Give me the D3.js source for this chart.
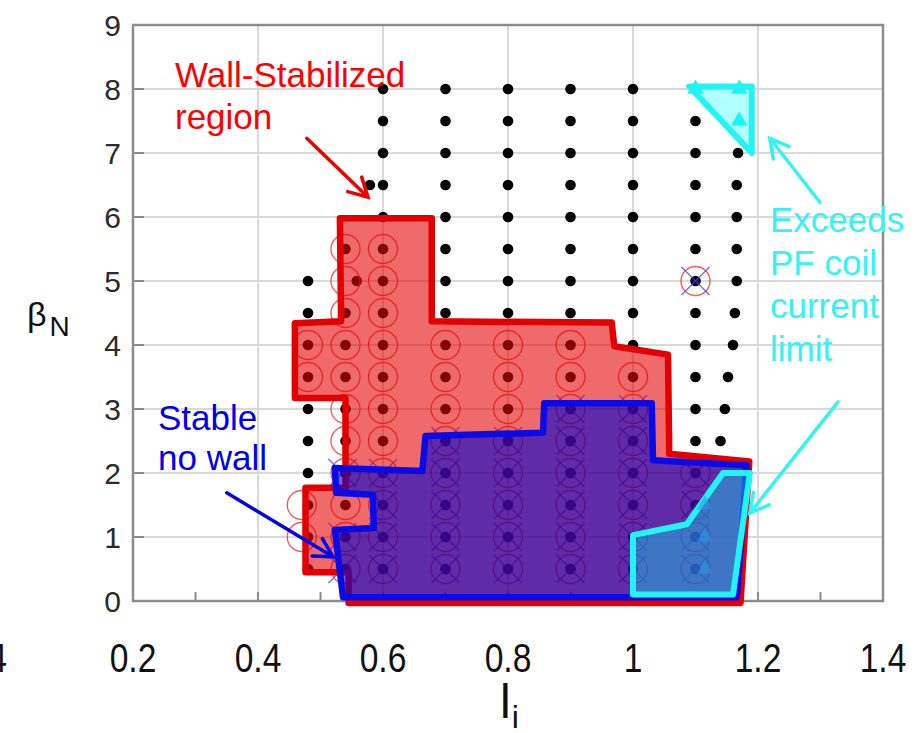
<!DOCTYPE html>
<html>
<head>
<meta charset="utf-8">
<script src="https://cdn.jsdelivr.net/npm/d3@7"></script>
<style>
  html, body { margin: 0; padding: 0; background: #fff; }
  svg { display: block; }
</style>
</head>
<body>
<svg id="chart" width="916" height="733"></svg>
<script>
// ---------------- data ----------------
const xTickValues = [0.2, 0.4, 0.6, 0.8, 1.0, 1.2, 1.4];
const xTickLabels = ["0.2", "0.4", "0.6", "0.8", "1", "1.2", "1.4"];
const xMinorTicks = [0.3, 0.5, 0.7, 0.9, 1.1, 1.3];
const yTickValues = [0, 1, 2, 3, 4, 5, 6, 7, 8, 9];
const yTickLabels = ["0", "1", "2", "3", "4", "5", "6", "7", "8", "9"];

// equilibrium scan points (black dots), grouped by li column
const dotColLi = [0.48, 0.54, 0.6, 0.7, 0.8, 0.9, 1.0, 1.1];
const dotColBetas = [
  [5, 4.5, 4, 3.5, 3, 2.5, 2, 1.5, 1, 0.5],
  [5.5, 4.5, 4, 3.5, 3, 2.5, 2, 1.5, 1, 0.5],
  [8, 7.5, 7, 6.5, 6, 5.5, 5, 4.5, 4, 3.5, 3, 2.5, 2, 1.5, 1, 0.5],
  [8, 7.5, 7, 6.5, 6, 5.5, 5, 4.5, 4, 3.5, 3, 2.5, 2, 1.5, 1, 0.5],
  [8, 7.5, 7, 6.5, 6, 5.5, 5, 4.5, 4, 3.5, 3, 2.5, 2, 1.5, 1, 0.5],
  [8, 7.5, 7, 6.5, 6, 5.5, 5, 4.5, 4, 3.5, 3, 2.5, 2, 1.5, 1, 0.5],
  [8, 7.5, 7, 6.5, 6, 5.5, 5, 4.5, 4, 3.5, 3, 2.5, 2, 1.5, 1, 0.5],
  [7.5, 7, 6.5, 6, 5.5, 5, 4.5, 4, 3.5, 3, 2.5, 2, 1.5, 1, 0.5]
];
// off-column points
const extraDotLi   = [0.558, 0.579, 1.168, 1.166, 1.166, 1.166, 1.166, 1.163, 1.160, 1.152, 1.147, 1.140];
const extraDotBeta = [5,     6.5,   7,     6.5,   6,     5.5,   5,     4.5,   4,     3.5,   3,     2.5];

// wall-stabilized cases (red circles)
const wallColLi = [0.48, 0.47, 0.54, 0.6, 0.7, 0.8, 0.9, 1.0, 1.1, 1.1];
const wallColBetas = [
  [4, 3.5],
  [1.5, 1],
  [5.5, 5, 4.5, 4, 3.5, 3, 2.5, 2, 1.5, 1, 0.5],
  [5.5, 5, 4.5, 4, 3.5, 3, 2.5, 2, 1.5, 1, 0.5],
  [4, 3.5, 3, 2.5, 2, 1.5, 1, 0.5],
  [4, 3.5, 3, 2.5, 2, 1.5, 1, 0.5],
  [4, 3.5, 3, 2.5, 2, 1.5, 1, 0.5],
  [3.5, 3, 2.5, 2, 1.5, 1, 0.5],
  [5],
  [2, 1.5, 1, 0.5]
];
// stable without wall (blue crosses)
const noWallColLi = [0.535, 0.6, 0.7, 0.8, 0.9, 1.0, 1.1, 1.1];
const noWallColBetas = [
  [2, 1, 0.5],
  [2, 1.5, 1, 0.5],
  [2.5, 2, 1.5, 1, 0.5],
  [2.5, 2, 1.5, 1, 0.5],
  [3, 2.5, 2, 1.5, 1, 0.5],
  [3, 2.5, 2, 1.5, 1, 0.5],
  [5],
  [2, 1.5, 1, 0.5]
];
// PF coil limit cases (cyan triangles)
const pfLi   = [1.1, 1.17, 1.17, 1.115, 1.115, 1.115];
const pfBeta = [8,   8,    7.5,  1.5,   1,     0.5];

// region boundaries [li, betaN]
const wallRegion = [
  [0.531, 5.98], [0.678, 5.98], [0.678, 4.37], [0.966, 4.35], [0.970, 3.98],
  [1.056, 3.85], [1.058, 2.30], [1.186, 2.18], [1.172, -0.03], [0.545, -0.03],
  [0.545, 0.45], [0.476, 0.45], [0.476, 1.77], [0.540, 1.77], [0.540, 3.17],
  [0.459, 3.17], [0.459, 4.34], [0.533, 4.37]
];
const noWallRegion = [
  [0.523, 2.08], [0.663, 2.03], [0.668, 2.58], [0.856, 2.63], [0.858, 3.09],
  [1.030, 3.09], [1.032, 2.20], [1.182, 2.12], [1.166, 0.06], [0.536, 0.06],
  [0.523, 1.11], [0.585, 1.14], [0.584, 1.66], [0.525, 1.69]
];
const pfRegionLow = [
  [1.0, 1.03], [1.086, 1.20], [1.144, 2.0], [1.187, 2.0], [1.160, 0.10], [1.0, 0.10]
];
const pfRegionHigh = [
  [1.09, 8.04], [1.19, 8.04], [1.19, 7.0]
];

// annotations: [tailLi, tailBeta, tipLi, tipBeta]
const arrows = [
  { c: "#ee0000", p: [0.478, 7.23, 0.576, 6.31] },
  { c: "#0000e6", p: [0.350, 1.69, 0.520, 0.69] },
  { c: "#33f3f3", p: [1.299, 6.23, 1.219, 7.23] },
  { c: "#33f3f3", p: [1.328, 3.11, 1.187, 1.375] }
];
const labelWall = ["Wall-Stabilized", "region"];
const labelNoWall = ["Stable", "no wall"];
const labelPF = ["Exceeds", "PF coil", "current", "limit"];

// ---------------- drawing ----------------
const svg = d3.select("#chart");
const x = d3.scaleLinear().domain([0.2, 1.4]).range([133, 883]);
const y = d3.scaleLinear().domain([0, 9]).range([601, 25]);
const FONT = "'Liberation Sans', Arial, sans-serif";

// gridlines
svg.append("g").selectAll("line.gx").data(xTickValues.slice(1, -1)).join("line")
  .attr("x1", d => x(d)).attr("x2", d => x(d)).attr("y1", y(9)).attr("y2", y(0))
  .attr("stroke", "#d9d9d9").attr("stroke-width", 2);
svg.append("g").selectAll("line.gy").data(yTickValues.slice(1, -1)).join("line")
  .attr("x1", x(0.2)).attr("x2", x(1.4)).attr("y1", d => y(d)).attr("y2", d => y(d))
  .attr("stroke", "#d9d9d9").attr("stroke-width", 2);

// inward ticks
svg.append("g").selectAll("line").data(yTickValues).join("line")
  .attr("x1", x(0.2)).attr("x2", x(0.2) + 11).attr("y1", d => y(d)).attr("y2", d => y(d))
  .attr("stroke", "#8a8a8a").attr("stroke-width", 2);
svg.append("g").selectAll("line").data(xTickValues.concat(xMinorTicks)).join("line")
  .attr("x1", d => x(d)).attr("x2", d => x(d)).attr("y1", y(0)).attr("y2", y(0) - 9)
  .attr("stroke", "#8a8a8a").attr("stroke-width", 2);

// frame
svg.append("rect").attr("x", x(0.2)).attr("y", y(9))
  .attr("width", x(1.4) - x(0.2)).attr("height", y(0) - y(9))
  .attr("fill", "none").attr("stroke", "#8c8c8c").attr("stroke-width", 2.5);

// dots
const dots = [];
dotColLi.forEach((li, i) => dotColBetas[i].forEach(b => dots.push([li, b])));
extraDotLi.forEach((li, i) => dots.push([li, extraDotBeta[i]]));
svg.append("g").selectAll("circle").data(dots).join("circle")
  .attr("cx", d => x(d[0])).attr("cy", d => y(d[1])).attr("r", 5.3).attr("fill", "#000");

// wall-stabilized circles
const wallPts = [];
wallColLi.forEach((li, i) => wallColBetas[i].forEach(b => wallPts.push([li, b])));
svg.append("g").selectAll("circle").data(wallPts).join("circle")
  .attr("cx", d => x(d[0])).attr("cy", d => y(d[1])).attr("r", 14.5)
  .attr("fill", "none").attr("stroke", "rgba(240,40,40,0.75)").attr("stroke-width", 1.4);

// no-wall crosses
const noWallPts = [];
noWallColLi.forEach((li, i) => noWallColBetas[i].forEach(b => noWallPts.push([li, b])));
const xs = 14;
svg.append("g").selectAll("path").data(noWallPts).join("path")
  .attr("d", d => {
    const cx = x(d[0]), cy = y(d[1]);
    return `M${cx - xs},${cy - xs}L${cx + xs},${cy + xs}M${cx - xs},${cy + xs}L${cx + xs},${cy - xs}`;
  })
  .attr("stroke", "rgba(70,70,255,0.8)").attr("stroke-width", 1.3).attr("fill", "none");

// regions
const line = d3.line().x(d => x(d[0])).y(d => y(d[1]));
svg.append("path").attr("d", line(wallRegion) + "Z")
  .attr("fill", "rgba(228,0,0,0.58)").attr("stroke", "#e20000")
  .attr("stroke-width", 6.5).attr("stroke-linejoin", "round");
svg.append("path").attr("d", line(noWallRegion) + "Z")
  .attr("fill", "rgba(0,0,205,0.6)").attr("stroke", "#0a0ae6")
  .attr("stroke-width", 6.5).attr("stroke-linejoin", "round");
svg.append("path").attr("d", line(pfRegionLow) + "Z")
  .attr("fill", "rgba(0,255,255,0.35)").attr("stroke", "#22f4f4")
  .attr("stroke-width", 6).attr("stroke-linejoin", "round");

// PF triangles
const tri = d3.symbol().type(d3.symbolTriangle).size(120);
svg.append("g").selectAll("path").data(d3.range(pfLi.length)).join("path")
  .attr("d", tri)
  .attr("transform", i => `translate(${x(pfLi[i])},${y(pfBeta[i])})`)
  .attr("fill", i => pfBeta[i] > 5 ? "#22f4f4" : "rgba(40,150,230,0.55)");

svg.append("path").attr("d", line(pfRegionHigh) + "Z")
  .attr("fill", "rgba(0,255,255,0.3)").attr("stroke", "#22f4f4")
  .attr("stroke-width", 6).attr("stroke-linejoin", "round");

// arrows
arrows.forEach(a => {
  const x1 = x(a.p[0]), y1 = y(a.p[1]), x2 = x(a.p[2]), y2 = y(a.p[3]);
  const ang = Math.atan2(y2 - y1, x2 - x1);
  const L = 21, w = 0.5;
  const hx1 = x2 - L * Math.cos(ang - w), hy1 = y2 - L * Math.sin(ang - w);
  const hx2 = x2 - L * Math.cos(ang + w), hy2 = y2 - L * Math.sin(ang + w);
  svg.append("path")
    .attr("d", `M${x1},${y1}L${x2},${y2}M${hx1},${hy1}L${x2},${y2}L${hx2},${hy2}`)
    .attr("fill", "none").attr("stroke", a.c).attr("stroke-width", 3.5)
    .attr("stroke-linecap", "round").attr("stroke-linejoin", "miter");
});

// annotation text
function block(lines, px, py0, dy, color) {
  lines.forEach((t, i) => svg.append("text").attr("x", px).attr("y", py0 + i * dy)
    .attr("font-family", FONT).attr("font-size", 35).attr("fill", color).text(t));
}
block(labelWall, 175, 87, 42, "#ff0000");
block(labelNoWall, 158, 430, 40, "#0000ee");
block(labelPF, 770, 232, 43, "#33f3f3");

// y tick labels
svg.append("g").selectAll("text").data(yTickValues).join("text")
  .attr("x", 121).attr("y", d => y(d) + 11)
  .attr("text-anchor", "end").attr("font-family", FONT).attr("font-size", 30)
  .attr("fill", "#2b2b2b").text((d, i) => yTickLabels[i]);

// x tick labels (narrow face)
svg.append("g").selectAll("text").data(xTickValues).join("text")
  .attr("transform", d => `translate(${x(d)},672) scale(0.82,1)`)
  .attr("text-anchor", "middle").attr("font-family", FONT).attr("font-size", 41)
  .attr("fill", "#111").text((d, i) => xTickLabels[i]);
// clipped label at the left edge
svg.append("text").attr("transform", `translate(${x(0.0) - 1},672) scale(0.82,1)`)
  .attr("text-anchor", "end").attr("font-family", FONT).attr("font-size", 41)
  .attr("fill", "#111").text("4");

// axis titles
const yt = svg.append("text").attr("x", 27).attr("y", 326)
  .attr("font-family", FONT).attr("font-size", 34).attr("fill", "#111");
yt.append("tspan").text("β");
yt.append("tspan").attr("font-size", 28).attr("dx", 3).attr("dy", 10).text("N");

const xt = svg.append("text").attr("x", 500).attr("y", 718)
  .attr("font-family", FONT).attr("font-size", 48).attr("fill", "#111");
xt.append("tspan").text("l");
xt.append("tspan").attr("font-size", 32).attr("dx", 1).attr("dy", 10).text("i");
</script>
</body>
</html>
